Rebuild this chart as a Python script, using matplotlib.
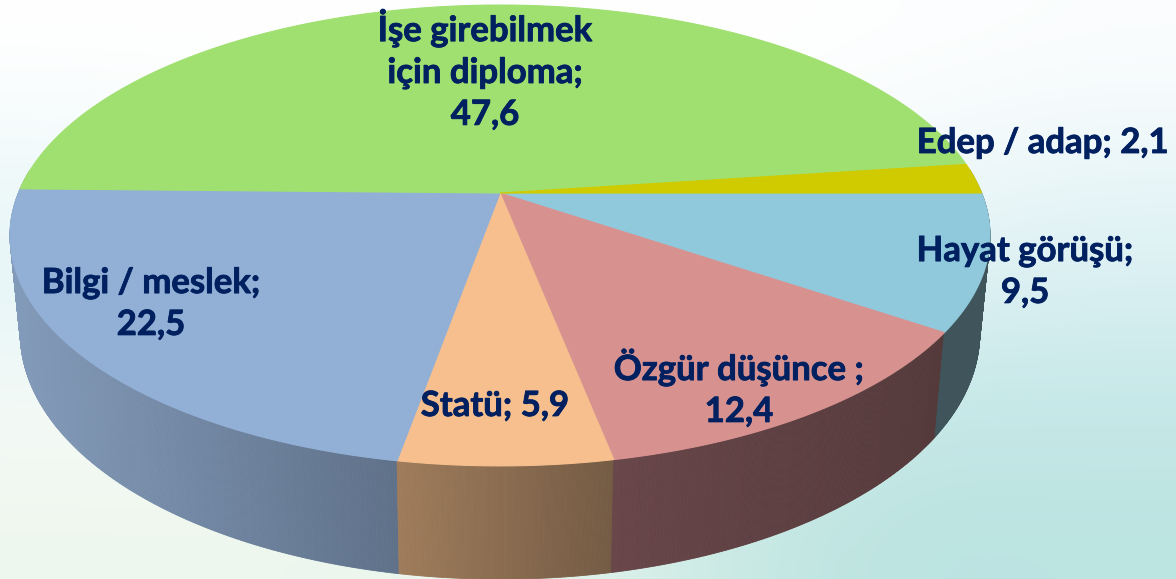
import numpy as np
import matplotlib
matplotlib.use("Agg")
import matplotlib.pyplot as plt
import matplotlib.patheffects as pe
from matplotlib.patches import Polygon
from matplotlib.collections import PolyCollection
from matplotlib.colors import to_rgb

labels = ["Edep / adap", "İşe girebilmek\niçin diploma", "Bilgi / meslek", "Statü", "Özgür düşünce ", "Hayat görüşü"]
values = [2.1, 47.6, 22.5, 5.9, 12.4, 9.5]
value_text = ["2,1", "47,6", "22,5", "5,9", "12,4", "9,5"]

top_colors = ["#d0cb00", "#a0e070", "#92b0d6", "#f6bf8d", "#d79290", "#90c9dc"]
side_left = ["#7d8f45", "#6f9a50", "#839bba", "#9f7c5b", "#684649", "#3f555b"]
side_right = ["#7d8f45", "#6f9a50", "#5f7189", "#745b44", "#553a3b", "#3f555b"]

# where the text goes, centre of the text block in pixels
label_pos = [(1043, 143), (485, 70), (151, 304), (495, 406), (739, 388), (1025, 272)]
one_line = [True, False, False, True, False, False]

# perspective of the pie in pixels
CX, CY = 500, 193
BX, A, K = 481.6, 222.6, 0.1843
BOTTOM_Y, SX, SY = 288, 0.979, 1.067

bg_colors = [
    ["#ffffff", "#ffffff", "#ffffff", "#ffffff", "#fbfdfe"],
    ["#eef9fa", "#fdfefe", "#ffffff", "#f6fbfc", "#e9f6f8"],
    ["#e4f4f6", "#f4fbfa", "#ffffff", "#e2f2f4", "#d8eff2"],
    ["#f6fbf8", "#fbfdfb", "#f4faf6", "#c6e8e8", "#c6e8e8"],
    ["#eef7ee", "#eef7ee", "#e0f3ea", "#bbe3e0", "#bce4e1"],
]


def top_xy(deg):
    # point of the unit circle seen through the perspective
    t = np.radians(deg)
    u, v = np.cos(t), np.sin(t)
    w = 1 + K * v
    return BX * u / w, -A * v / w


def lerp(c1, c2, f):
    c1, c2 = np.array(to_rgb(c1)), np.array(to_rgb(c2))
    return tuple(c1 + (c2 - c1) * f)


fig = plt.figure(figsize=(11.76, 5.79), dpi=100)
ax = fig.add_axes([0, 0, 1, 1])
ax.set_xlim(0, 1176)
ax.set_ylim(579, 0)
ax.axis("off")

bg = np.array([[to_rgb(c) for c in row] for row in bg_colors])
ax.imshow(bg, extent=[0, 1176, 579, 0], interpolation="bicubic", aspect="auto", zorder=0)

# slices go anticlockwise from the right hand edge
ends = np.cumsum(values) / np.sum(values) * 360
starts = np.concatenate([[0], ends[:-1]])
wedges = list(zip(starts, ends))

# sides first, the tops cover what should be hidden
for (a0, a1), c_l, c_r in zip(wedges, side_left, side_right):
    n = max(int((a1 - a0) * 4), 2)
    ts = np.linspace(a0, a1, n)
    x, y = top_xy(ts)
    xt, yt = CX + x, CY + y
    xb, yb = CX + SX * x, BOTTOM_Y + SY * y
    quads, cols = [], []
    xs_min, xs_max = min(xt.min(), xb.min()), max(xt.max(), xb.max())
    for j in range(n - 1):
        if np.sin(np.radians(ts[j])) > 0.1 and np.sin(np.radians(ts[j + 1])) > 0.1:
            continue
        quads.append([(xt[j], yt[j]), (xt[j + 1], yt[j + 1]), (xb[j + 1], yb[j + 1]), (xb[j], yb[j])])
        cols.append(lerp(c_l, c_r, (xt[j] - xs_min) / max(xs_max - xs_min, 1)))
    if quads:
        ax.add_collection(PolyCollection(quads, facecolors=cols, edgecolors=cols, linewidths=0.6, zorder=2))

# reversed so the thin yellow slice is not eaten by the edge of the green one
for (a0, a1), col in reversed(list(zip(wedges, top_colors))):
    ts = np.linspace(a0, a1, max(int(a1 - a0) * 2, 8))
    x, y = top_xy(ts)
    pts = [(CX, CY)] + list(zip(CX + x, CY + y))
    ax.add_patch(Polygon(pts, closed=True, facecolor=col, edgecolor=col, linewidth=0.8, zorder=3))

for name, txt, pos, single in zip(labels, value_text, label_pos, one_line):
    s = f"{name}; {txt}" if single else f"{name};\n{txt}"
    t = ax.text(pos[0], pos[1], s, ha="center", va="center", family="Lato", weight="bold",
                fontsize=25, color="#002060", linespacing=1.38, zorder=5)
    t.set_path_effects([pe.withStroke(linewidth=0.6, foreground="#002060")])

fig.savefig("out.png", dpi=100)
